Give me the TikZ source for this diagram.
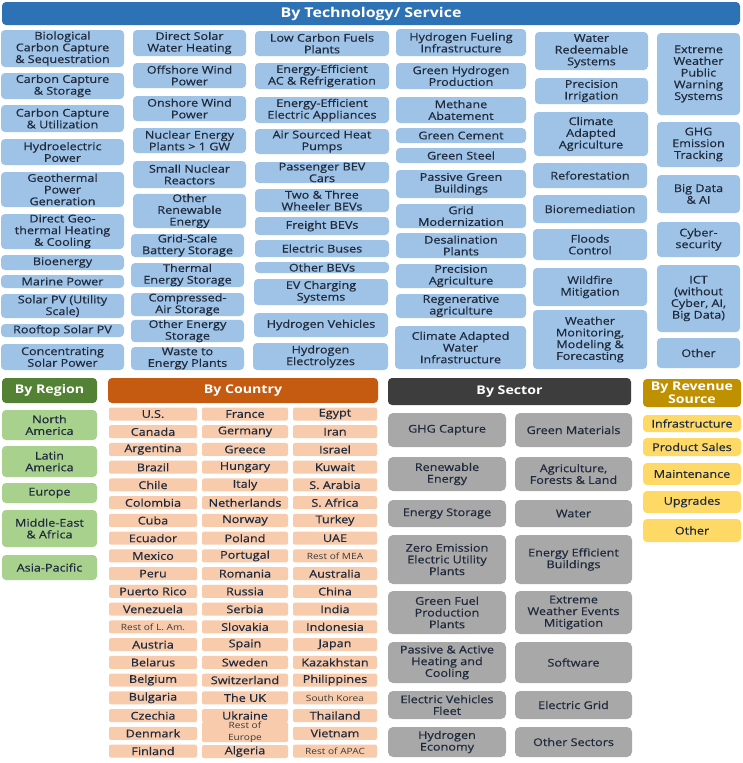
\documentclass[tikz,border=0pt]{standalone}
\usepackage{fontspec}
\setmainfont{Open Sans}[FakeStretch=1.18, UprightFeatures={FakeBold=0.5}]
\newfontfamily\lightf{Open Sans}[FakeStretch=1.18]
\definecolor{techhead}{HTML}{2E72B6}
\definecolor{techfill}{HTML}{9FC3E7}
\definecolor{reghead}{HTML}{548235}
\definecolor{regfill}{HTML}{A9D18E}
\definecolor{cnthead}{HTML}{C55A11}
\definecolor{cntfill}{HTML}{F8CBAD}
\definecolor{sechead}{HTML}{3D3D3D}
\definecolor{secfill}{HTML}{A8A8A8}
\definecolor{revhead}{HTML}{BF9000}
\definecolor{revfill}{HTML}{FFD966}
\definecolor{txt}{HTML}{1F2A3C}
\definecolor{lighttxt}{HTML}{3A3A3A}
\newcommand\fs{\fontsize{10.7}{11.7}\selectfont}
\newcommand\hfs{\fontsize{12}{13.2}\selectfont\bfseries}
\newcommand\smalltxt[1]{{\lightf\fontsize{8.6}{9}\selectfont\color{lighttxt}#1}}
\newcommand\bx[7]{\node[#1,minimum width={((#5)-(#3))*1pt},minimum height={((#6)-(#4))*1pt}] (#2) at ({((#3)+(#5))/2},{((#4)+(#6))/2}) {#7};}
\tikzset{
  base/.style={rounded corners=4pt, inner sep=0pt, align=center, font=\fs, text=txt},
  head/.style={base, font=\hfs, text=white},
  tech/.style={base, fill=techfill},
  techh/.style={head, fill=techhead, font=\fontsize{13.5}{14}\selectfont\bfseries},
  reg/.style={base, fill=regfill},
  regh/.style={head, fill=reghead},
  cnt/.style={base, rounded corners=2pt, fill=cntfill},
  cnth/.style={head, fill=cnthead},
  sec/.style={base, rounded corners=5pt, fill=secfill},
  sech/.style={head, fill=sechead},
  rev/.style={base, fill=revfill},
  revh/.style={head, fill=revhead},
}
\begin{document}
\begin{tikzpicture}[x=1pt,y=-1pt]
\useasboundingbox[fill=white] (0,0) rectangle (742,763);
% header
\bx{techh}{th}{2}{2}{740}{25}{By Technology/ Service}
% column 1
\bx{tech}{t1a}{1}{30}{124}{67}{Biological\\Carbon Capture\\\& Sequestration}
\bx{tech}{t1b}{1}{73}{124}{99}{Carbon Capture\\\& Storage}
\bx{tech}{t1c}{1}{105}{124}{132}{Carbon Capture\\\& Utilization}
\bx{tech}{t1d}{1}{139}{124}{165}{Hydroelectric\\Power}
\bx{tech}{t1e}{1}{172}{124}{207}{Geothermal\\Power\\Generation}
\bx{tech}{t1f}{1}{214}{124}{249}{Direct Geo-\\thermal Heating\\\& Cooling}
\bx{tech}{t1g}{1}{255}{124}{270}{Bioenergy}
\bx{tech}{t1h}{1}{275}{124}{288}{Marine Power}
\bx{tech}{t1i}{1}{294}{124}{318}{Solar PV (Utility\\Scale)}
\bx{tech}{t1j}{1}{324}{124}{337}{Rooftop Solar PV}
\bx{tech}{t1k}{1}{344}{124}{370}{Concentrating\\Solar Power}
% column 2
\bx{tech}{t2a}{133}{30}{246}{56}{Direct Solar\\Water Heating}
\bx{tech}{t2b}{133}{63}{246}{88}{Offshore Wind\\Power}
\bx{tech}{t2c}{133}{96}{246}{121}{Onshore Wind\\Power}
\bx{tech}{t2d}{133}{128}{246}{153}{Nuclear Energy\\Plants > 1 GW}
\bx{tech}{t2e}{133}{161}{246}{188}{Small Nuclear\\Reactors}
\bx{tech}{t2f}{133}{194}{246}{228}{Other\\Renewable\\Energy}
\bx{tech}{t2g}{131}{234}{244}{257}{Grid-Scale\\Battery Storage}
\bx{tech}{t2h}{131}{263}{244}{287}{Thermal\\Energy Storage}
\bx{tech}{t2i}{131}{293}{244}{316}{Compressed-\\Air Storage}
\bx{tech}{t2j}{131}{320}{244}{342}{Other Energy\\Storage}
\bx{tech}{t2k}{131}{347}{244}{370}{Waste to\\Energy Plants}
% column 3
\bx{tech}{t3a}{255}{31}{389}{56}{Low Carbon Fuels\\Plants}
\bx{tech}{t3b}{255}{63}{389}{89}{Energy-Efficient\\AC \& Refrigeration}
\bx{tech}{t3c}{255}{97}{389}{123}{Energy-Efficient\\Electric Appliances}
\bx{tech}{t3d}{255}{129}{389}{154}{Air Sourced Heat\\Pumps}
\bx{tech}{t3e}{255}{162}{389}{183}{Passenger BEV\\Cars}
\bx{tech}{t3f}{255}{189}{389}{212}{Two \& Three\\Wheeler BEVs}
\bx{tech}{t3g}{255}{217}{389}{235}{Freight BEVs}
\bx{tech}{t3h}{255}{240}{389}{257}{Electric Buses}
\bx{tech}{t3i}{255}{262}{389}{273}{Other BEVs}
\bx{tech}{t3j}{254}{279}{388}{305}{EV Charging\\Systems}
\bx{tech}{t3k}{254}{313}{388}{337}{Hydrogen Vehicles}
\bx{tech}{t3l}{253}{343}{388}{370}{Hydrogen\\Electrolyzes}
% column 4
\bx{tech}{t4a}{396}{29}{526}{56}{Hydrogen Fueling\\Infrastructure}
\bx{tech}{t4b}{396}{63}{526}{89}{Green Hydrogen\\Production}
\bx{tech}{t4c}{396}{97}{526}{123}{Methane\\Abatement}
\bx{tech}{t4d}{396}{128}{526}{143}{Green Cement}
\bx{tech}{t4e}{396}{148}{526}{163}{Green Steel}
\bx{tech}{t4f}{396}{170}{526}{198}{Passive Green\\Buildings}
\bx{tech}{t4g}{396}{204}{526}{228}{Grid\\Modernization}
\bx{tech}{t4h}{396}{233}{526}{258}{Desalination\\Plants}
\bx{tech}{t4i}{396}{264}{526}{288}{Precision\\Agriculture}
\bx{tech}{t4j}{396}{294}{526}{318}{Regenerative\\agriculture}
\bx{tech}{t4k}{395}{326}{526}{369}{Climate Adapted\\Water\\Infrastructure}
% column 5
\bx{tech}{t5a}{535}{32}{648}{70}{Water\\Redeemable\\Systems}
\bx{tech}{t5b}{535}{78}{648}{104}{Precision\\Irrigation}
\bx{tech}{t5c}{534}{112}{648}{156}{Climate\\Adapted\\Agriculture}
\bx{tech}{t5d}{533}{163}{647}{188}{Reforestation}
\bx{tech}{t5e}{533}{195}{647}{223}{Bioremediation}
\bx{tech}{t5f}{533}{229}{647}{260}{Floods\\Control}
\bx{tech}{t5g}{533}{268}{647}{306}{Wildfire\\Mitigation}
\bx{tech}{t5h}{533}{310}{647}{369}{Weather\\Monitoring,\\Modeling \&\\Forecasting}
% column 6
\bx{tech}{t6a}{657}{33}{740}{115}{Extreme\\Weather\\Public\\Warning\\Systems}
\bx{tech}{t6b}{657}{122}{740}{167}{GHG\\Emission\\Tracking}
\bx{tech}{t6c}{657}{175}{740}{213}{Big Data\\\& AI}
\bx{tech}{t6d}{657}{222}{740}{257}{Cyber-\\security}
\bx{tech}{t6e}{657}{265}{740}{332}{ICT\\(without\\Cyber, AI,\\Big Data)}
\bx{tech}{t6f}{657}{338}{740}{368}{Other}
% region
\bx{regh}{rh}{2}{378}{97}{403}{By Region}
\bx{reg}{r1}{2}{410}{97}{440}{North\\America}
\bx{reg}{r2}{2}{446}{97}{477}{Latin\\America}
\bx{reg}{r3}{2}{483}{97}{503}{Europe}
\bx{reg}{r4}{2}{510}{97}{547}{Middle-East\\\& Africa}
\bx{reg}{r5}{2}{555}{97}{580}{Asia-Pacific}
% country
\bx{cnth}{ch}{108}{378}{378}{403}{By Country}
\foreach \t [count=\i from 0] in {U.S.,Canada,Argentina,Brazil,Chile,Colombia,Cuba,Ecuador,Mexico,Peru,Puerto Rico,Venezuela,\smalltxt{Rest of L. Am.},Austria,Belarus,Belgium,Bulgaria,Czechia,Denmark,Finland}{
  \bx{cnt}{ca\i}{109}{414+\i*17.74-6.5}{197}{414+\i*17.74+6.5}{\t}
}
\foreach \t [count=\i from 0] in {France,Germany,Greece,Hungary,Italy,Netherlands,Norway,Poland,Portugal,Romania,Russia,Serbia,Slovakia,Spain,Sweden,Switzerland,The UK,Ukraine}{
  \bx{cnt}{cb\i}{202}{414+\i*17.74-6.5}{288}{414+\i*17.74+6.5}{\t}
}
\bx{cnt}{cb18}{202}{722}{288}{742}{\smalltxt{Rest of}\\\smalltxt{Europe}}
\bx{cnt}{cb19}{202}{745}{288}{758}{Algeria}
\foreach \t [count=\i from 0] in {Egypt,Iran,Israel,Kuwait,S. Arabia,S. Africa,Turkey,UAE,\smalltxt{Rest of MEA},Australia,China,India,Indonesia,Japan,Kazakhstan,Philippines,\smalltxt{South Korea},Thailand,Vietnam,\smalltxt{Rest of APAC}}{
  \bx{cnt}{cc\i}{293}{414+\i*17.74-6.5}{377}{414+\i*17.74+6.5}{\t}
}
% sector
\bx{sech}{sh}{388}{378}{631}{405}{By Sector}
\bx{sec}{s1a}{388}{413}{506}{447}{GHG Capture}
\bx{sec}{s1b}{515}{413}{632}{447}{Green Materials}
\bx{sec}{s2a}{388}{457}{506}{491}{Renewable\\Energy}
\bx{sec}{s2b}{515}{457}{632}{491}{Agriculture,\\Forests \& Land}
\bx{sec}{s3a}{388}{500}{506}{527}{Energy Storage}
\bx{sec}{s3b}{515}{500}{632}{527}{Water}
\bx{sec}{s4a}{388}{535}{506}{584}{Zero Emission\\Electric Utility\\Plants}
\bx{sec}{s4b}{515}{535}{632}{584}{Energy Efficient\\Buildings}
\bx{sec}{s5a}{388}{591}{506}{634}{Green Fuel\\Production\\Plants}
\bx{sec}{s5b}{515}{591}{632}{634}{Extreme\\Weather Events\\Mitigation}
\bx{sec}{s6a}{388}{642}{506}{683}{Passive \& Active\\Heating and\\Cooling}
\bx{sec}{s6b}{515}{642}{632}{683}{Software}
\bx{sec}{s7a}{388}{691}{506}{719}{Electric Vehicles\\Fleet}
\bx{sec}{s7b}{515}{691}{632}{719}{Electric Grid}
\bx{sec}{s8a}{388}{727}{506}{757}{Hydrogen\\Economy}
\bx{sec}{s8b}{515}{727}{632}{757}{Other Sectors}
% revenue
\bx{revh}{vh}{643}{379}{741}{407}{By Revenue\\Source}
\bx{rev}{v1}{643}{415}{741}{432}{Infrastructure}
\bx{rev}{v2}{643}{438}{741}{456}{Product Sales}
\bx{rev}{v3}{643}{463}{741}{485}{Maintenance}
\bx{rev}{v4}{643}{491}{741}{513}{Upgrades}
\bx{rev}{v5}{643}{519}{741}{542}{Other}
\end{tikzpicture}
\end{document}
